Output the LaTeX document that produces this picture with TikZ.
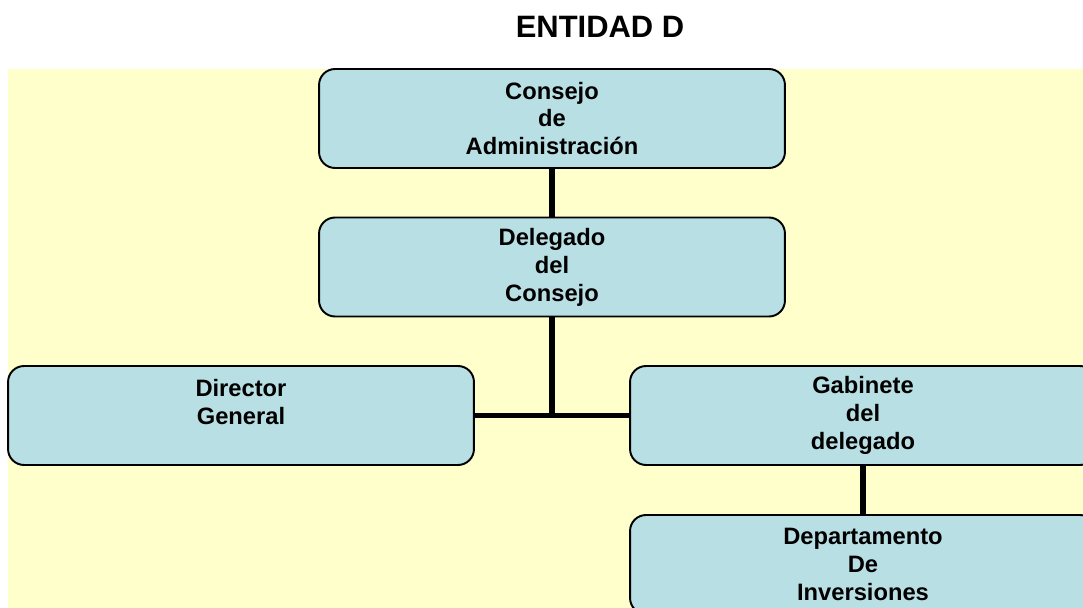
\documentclass[tikz,border=0pt]{standalone}
\usepackage{fontspec}
\setmainfont{Liberation Sans}
\usepackage{xcolor}
\usepackage{tikz}

\definecolor{fondo}{RGB}{255,255,204}
\definecolor{caja}{RGB}{184,223,228}

\begin{document}
\begin{tikzpicture}[x=0.02cm, y=-0.02cm,
  orgbox/.style={draw=black, line width=1.1pt, fill=caja, rounded corners=0.32cm,
    minimum width=9.32cm, minimum height=1.98cm, inner sep=0pt, align=center,
    font=\fontsize{13.5}{15.9}\selectfont\bfseries},
  enlace/.style={line width=3.2pt, black}]
\clip (0,0) rectangle (1083,608);
% Background
\fill[white] (0,0) rectangle (1083,608);
\fill[fondo] (8,69) rectangle (1083,608);

% Title
\node[font=\fontsize{17.6}{20}\selectfont\bfseries] (titulo) at (600,27) {ENTIDAD D};

% Boxes
\node[orgbox] (consejo) at (552,118.5) {Consejo\\de\\Administración};
\node[orgbox] (delegado) at (552,267) {Delegado\\del\\Consejo};
\node[orgbox] (director) at (241,415.5) {Director\\General\\~};
\node[orgbox] (gabinete) at (863,415.5) {Gabinete\\del\\delegado};
\node[orgbox] (depto) at (863,564.5) {Departamento\\De\\Inversiones};

% Connectors
\coordinate (cruce) at (552,415.5);
\draw[enlace] (consejo.south) -- (delegado.north);
\draw[enlace] (delegado.south) -- (cruce);
\draw[enlace] (director.east) -- (gabinete.west);
\draw[enlace] (gabinete.south) -- (depto.north);

\end{tikzpicture}
\end{document}
